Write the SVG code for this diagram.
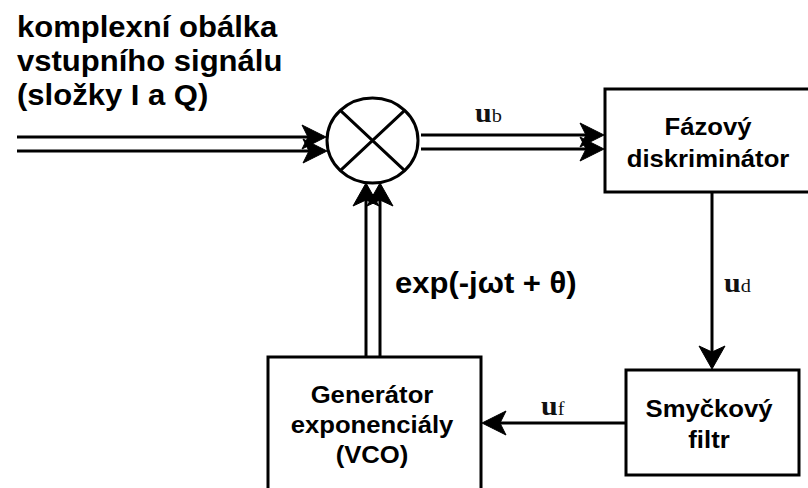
<svg xmlns="http://www.w3.org/2000/svg" width="808" height="488" viewBox="0 0 808 488">
<style>
.ln{fill:none;stroke:#000;stroke-width:3}
.bx{fill:#fff;stroke:#000;stroke-width:3}
.ah{fill:#000;stroke:#000;stroke-width:1;stroke-linejoin:miter}
.tt{font-family:"Liberation Sans",Arial,sans-serif;font-weight:bold;font-size:29px;fill:#000}
.bt{font-family:"Liberation Sans",Arial,sans-serif;font-weight:bold;font-size:24px;fill:#000;text-anchor:middle}
.lu{font-family:"Liberation Serif","Times New Roman",serif;font-weight:bold;font-size:28px;fill:#111}
.ls{font-family:"Liberation Serif","Times New Roman",serif;font-weight:normal;font-size:19px;fill:#111}
</style>
<defs>
<marker id="arrH" markerUnits="userSpaceOnUse" markerWidth="30" markerHeight="30" refX="7" refY="13" orient="auto"><path class="ah" d="M1,1 L25,13 L1,25 L7,13 Z"/></marker>
<marker id="arrV" markerUnits="userSpaceOnUse" markerWidth="30" markerHeight="32" refX="7" refY="14" orient="auto"><path class="ah" d="M1,1 L24,14 L1,27 L7,14 Z"/></marker>
</defs>
<rect width="808" height="488" fill="#fff"/>
<g id="input-label">
<text class="tt" transform="translate(17,37) scale(1.07,1)">komplexní obálka</text>
<text class="tt" transform="translate(17,71) scale(1.07,1)">vstupního signálu</text>
<text class="tt" transform="translate(17,105) scale(1.07,1)">(složky I a Q)</text>
</g>
<g id="connectors">
<path class="ln" d="M17,137 H308" marker-end="url(#arrH)"/>
<path class="ln" d="M17,151 H309" marker-end="url(#arrH)"/>
<path class="ln" d="M421,135 H586" marker-end="url(#arrH)"/>
<path class="ln" d="M421,149 H586" marker-end="url(#arrH)"/>
<path class="ln" d="M712,192 V352" marker-end="url(#arrV)"/>
<path class="ln" d="M626,423 H500" marker-end="url(#arrH)"/>
<path class="ln" d="M366,357 V200" marker-end="url(#arrV)"/>
<path class="ln" d="M380,357 V200" marker-end="url(#arrV)"/>
<text transform="translate(475,122) scale(1.07,1)"><tspan class="lu">u</tspan><tspan class="ls">b</tspan></text>
<text transform="translate(724,292) scale(1.07,1)"><tspan class="lu">u</tspan><tspan class="ls">d</tspan></text>
<text transform="translate(541,415) scale(1.07,1)"><tspan class="lu">u</tspan><tspan class="ls">f</tspan></text>
<text class="tt" transform="translate(395,293) scale(1.07,1)">exp(-jωt + θ)</text>
</g>
<g id="mixer">
<ellipse class="bx" cx="372.5" cy="140.5" rx="45.5" ry="42.5"/>
<path class="ln" d="M340.3,110.4 L404.7,170.6 M404.7,110.4 L340.3,170.6"/>
</g>
<g id="phase-detector">
<rect class="bx" x="605" y="89" width="220" height="103"/>
<text class="bt" transform="translate(708,135) scale(1.07,1)">Fázový</text>
<text class="bt" transform="translate(708,167) scale(1.07,1)">diskriminátor</text>
</g>
<g id="loop-filter">
<rect class="bx" x="626" y="370" width="173" height="105"/>
<text class="bt" transform="translate(709,417) scale(1.07,1)">Smyčkový</text>
<text class="bt" transform="translate(709,448) scale(1.07,1)">filtr</text>
</g>
<g id="vco">
<rect class="bx" x="268" y="357" width="213" height="140"/>
<text class="bt" transform="translate(372,403) scale(1.07,1)">Generátor</text>
<text class="bt" transform="translate(372,433) scale(1.07,1)">exponenciály</text>
<text class="bt" transform="translate(372,463) scale(1.07,1)">(VCO)</text>
</g>
</svg>
